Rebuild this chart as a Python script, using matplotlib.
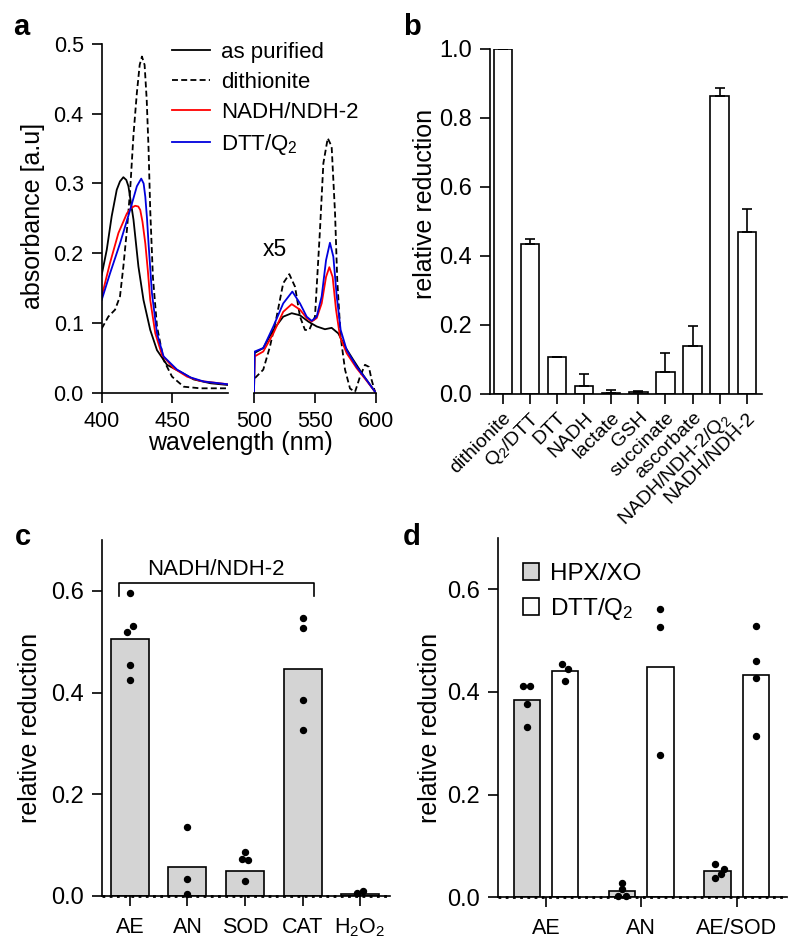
import matplotlib
matplotlib.use('Agg')
import matplotlib.pyplot as plt
from matplotlib.patches import Patch
from matplotlib.lines import Line2D
import numpy as np

plt.rcParams['font.family'] = ['Liberation Sans', 'DejaVu Sans']
plt.rcParams['mathtext.fontset'] = 'custom'
plt.rcParams['mathtext.rm'] = 'Liberation Sans'
plt.rcParams['mathtext.it'] = 'Liberation Sans:italic'
plt.rcParams['mathtext.bf'] = 'Liberation Sans:bold'
plt.rcParams['mathtext.default'] = 'regular'
plt.rcParams['axes.linewidth'] = 1.2

# ---------------- Panel a data (spectra) ----------------
purified_wl_L = [400, 403.6, 407.1, 410.7, 413, 415.4, 417.5, 419, 422.6, 426.1, 429.7, 434.5, 439.3, 446.4, 455.9, 465.4, 477.4, 490]
purified_ab_L = [0.169, 0.205, 0.253, 0.291, 0.303, 0.309, 0.305, 0.296, 0.248, 0.181, 0.133, 0.090, 0.061, 0.040, 0.030, 0.019, 0.0135, 0.011]
dithionite_wl_L = [400, 404.7, 409.5, 413, 415.4, 418, 420.2, 422.6, 425, 427, 428.6, 430.5, 432, 433.3, 434.5, 436.4, 439.3, 444, 450, 458.3, 470, 490]
dithionite_ab_L = [0.092, 0.109, 0.119, 0.138, 0.181, 0.235, 0.290, 0.370, 0.430, 0.470, 0.482, 0.470, 0.420, 0.350, 0.262, 0.166, 0.095, 0.047, 0.023, 0.0086, 0.0063, 0.0063]
nadh_wl_L = [400, 405.9, 411.9, 417.9, 421, 423.8, 426, 427.4, 429, 431, 432.8, 434.5, 438.1, 442.9, 451.2, 460.7, 470.2, 490]
nadh_ab_L = [0.138, 0.186, 0.229, 0.257, 0.265, 0.268, 0.267, 0.262, 0.245, 0.214, 0.175, 0.133, 0.085, 0.054, 0.035, 0.023, 0.0168, 0.012]
dtt_wl_L = [400, 405.9, 413, 420.2, 425, 428.1, 429.8, 431, 432.2, 433.3, 435.7, 439.3, 444, 453.6, 463, 472.6, 490]
dtt_ab_L = [0.133, 0.171, 0.214, 0.262, 0.296, 0.307, 0.300, 0.281, 0.250, 0.214, 0.143, 0.085, 0.052, 0.033, 0.022, 0.016, 0.012]

purified_wl_R = [500, 500.5, 507.6, 515.9, 524, 531, 537.8, 544.6, 551.5, 558.3, 563.8, 569.3, 574.8, 581.6, 589.8, 599.4]
purified_ab_R = [0.0, 0.057, 0.064, 0.090, 0.109, 0.114, 0.111, 0.102, 0.095, 0.091, 0.093, 0.085, 0.066, 0.047, 0.025, 0.0015]
dithionite_wl_R = [500.8, 507.6, 513.1, 518.6, 524, 529, 533.7, 537.8, 541.9, 545.4, 550.1, 554.2, 557, 560.6, 563.8, 566.6, 568.4, 571.2, 574.8, 578.9, 583, 587.1, 591.2, 594.4, 596.7, 599.4]
dithionite_ab_R = [0.021, 0.033, 0.066, 0.109, 0.157, 0.170, 0.152, 0.109, 0.090, 0.090, 0.109, 0.233, 0.329, 0.365, 0.353, 0.257, 0.162, 0.080, 0.033, 0.006, 0.001, 0.023, 0.040, 0.037, 0.018, 0.0015]
nadh_wl_R = [500, 500.5, 507.6, 515.9, 524, 531, 537.8, 543.3, 547.4, 551.5, 555.6, 559.2, 561.9, 564.6, 567.4, 570.7, 576.2, 584.4, 592.6, 599.4]
nadh_ab_R = [0.0, 0.052, 0.059, 0.085, 0.116, 0.127, 0.119, 0.107, 0.102, 0.107, 0.128, 0.166, 0.180, 0.166, 0.119, 0.080, 0.0565, 0.035, 0.017, 0.0015]
dtt_wl_R = [500, 500.5, 507.6, 515.9, 524, 531.5, 537.8, 543.3, 547.4, 551.5, 555.6, 559.2, 562.4, 565.2, 568, 571.2, 576.2, 584.4, 592.6, 599.4]
dtt_ab_R = [0.0, 0.059, 0.064, 0.095, 0.128, 0.145, 0.128, 0.109, 0.103, 0.109, 0.138, 0.190, 0.215, 0.195, 0.138, 0.090, 0.061, 0.037, 0.018, 0.0015]

legend_labels_a = ['as purified', 'dithionite', 'NADH/NDH-2', 'DTT/Q$_2$']

# ---------------- Panel b data ----------------
b_categories = ['dithionite', 'Q$_2$/DTT', 'DTT', 'NADH', 'lactate', 'GSH', 'succinate', 'ascorbate', 'NADH/NDH-2/Q$_2$', 'NADH/NDH-2']
b_values = [1.0, 0.433, 0.106, 0.024, 0.003, 0.007, 0.064, 0.140, 0.863, 0.469]
b_errors = [0.0, 0.016, 0.0, 0.034, 0.010, 0.003, 0.054, 0.058, 0.022, 0.066]

# ---------------- Panel c data ----------------
c_categories = ['AE', 'AN', 'SOD', 'CAT', 'H$_2$O$_2$']
c_values = [0.505, 0.058, 0.049, 0.446, 0.004]
c_points = [[0.596, 0.531, 0.520, 0.454, 0.425],
            [0.136, 0.033, 0.003],
            [0.0865, 0.073, 0.070, 0.0295],
            [0.546, 0.526, 0.385, 0.326],
            [0.0065, 0.0098]]

# ---------------- Panel d data ----------------
d_categories = ['AE', 'AN', 'AE/SOD']
d_series = ['HPX/XO', 'DTT/Q$_2$']
d_hpx_values = [0.384, 0.012, 0.051]
d_dtt_values = [0.440, 0.4485, 0.433]
d_hpx_points = [[0.412, 0.412, 0.377, 0.332],
                [0.0285, 0.0156, 0.0025, 0.0025],
                [0.065, 0.037, 0.045, 0.0545]]
d_dtt_points = [[0.454, 0.444, 0.422],
                [0.562, 0.526, 0.278],
                [0.529, 0.461, 0.427, 0.315]]

# jitter offsets of the dots (layout only)
c_jitter = [[0, 0.05, -0.05, 0, 0], [0, 0, 0], [0, -0.05, 0.05, 0], [0, 0, 0, 0], [-0.05, 0.05]]
d_hpx_jitter = [[-0.04, 0.037, 0, 0], [0, 0, -0.04, 0.04], [-0.03, -0.03, 0.035, 0.065]]
d_dtt_jitter = [[-0.037, 0.026, 0], [0, 0, 0], [0, 0, 0, 0]]

W, H = 800, 949
fig = plt.figure(figsize=(W / 100, H / 100), dpi=100)


def px_axes(x0, y0, x1, y1):
    return fig.add_axes([x0 / W, 1 - y1 / H, (x1 - x0) / W, (y1 - y0) / H])


def style(ax, fs):
    ax.spines['top'].set_visible(False)
    ax.spines['right'].set_visible(False)
    ax.tick_params(direction='out', length=7, width=1.2, labelsize=fs, pad=6)


BLUE = '#0000dd'
RED = '#ff0000'
DASH = (0, (3.3, 1.8))
LW = 1.3
LABEL_FS = 18

# ---------------- Panel a ----------------
axL = px_axes(101.7, 44, 228.3, 392.7)
axR = px_axes(254, 44, 375.7, 392.7)
for ax in (axL, axR):
    style(ax, 15.5)
    ax.set_ylim(0, 0.5)
axL.plot(purified_wl_L, purified_ab_L, color='black', lw=LW)
axL.plot(dithionite_wl_L, dithionite_ab_L, color='black', lw=LW, ls=DASH)
axL.plot(nadh_wl_L, nadh_ab_L, color=RED, lw=LW)
axL.plot(dtt_wl_L, dtt_ab_L, color=BLUE, lw=LW)
axL.set_xlim(400, 490)
axL.set_xticks([400, 450])
axL.set_yticks(np.arange(0, 0.51, 0.1))
axL.yaxis.set_major_formatter(matplotlib.ticker.FormatStrFormatter('%.1f'))

axR.plot(purified_wl_R, purified_ab_R, color='black', lw=LW)
axR.plot(dithionite_wl_R, dithionite_ab_R, color='black', lw=LW, ls=DASH)
axR.plot(nadh_wl_R, nadh_ab_R, color=RED, lw=LW)
axR.plot(dtt_wl_R, dtt_ab_R, color=BLUE, lw=LW)
axR.set_xlim(500, 600)
axR.set_xticks([500, 550, 600])
axR.spines['left'].set_visible(False)
axR.tick_params(left=False, labelleft=False)
axR.text(517.3, 0.205, 'x5', fontsize=16.5, ha='center', va='center')

handles = [Line2D([], [], color='black', lw=LW),
           Line2D([], [], color='black', lw=LW, ls=DASH),
           Line2D([], [], color=RED, lw=LW),
           Line2D([], [], color=BLUE, lw=LW)]
fig.legend(handles, legend_labels_a, loc='upper left', bbox_to_anchor=(172 / W, 1 - 42 / H),
           frameon=False, fontsize=16, handlelength=1.7, handletextpad=0.5,
           labelspacing=0.4, borderpad=0, borderaxespad=0)
fig.text(240 / W, 1 - 431 / H, 'wavelength (nm)', fontsize=LABEL_FS, ha='center', va='top')
fig.text(33 / W, 1 - 216 / H, 'absorbance [a.u]', fontsize=LABEL_FS, ha='center', va='center', rotation=90)

# ---------------- Panel b ----------------
axb = px_axes(490, 48.7, 761.7, 394)
style(axb, 17)
xb = np.arange(len(b_categories))
axb.bar(xb, b_values, width=0.68, color='white', edgecolor='black', lw=1.2, zorder=2)
axb.errorbar(xb, b_values, yerr=[np.zeros(len(b_errors)), b_errors], fmt='none',
             ecolor='black', elinewidth=1.2, capsize=3.5, capthick=1.2, zorder=3)
axb.set_xlim(-0.47, 9.55)
axb.set_ylim(0, 1.0)
axb.set_yticks(np.arange(0, 1.01, 0.2))
axb.yaxis.set_major_formatter(matplotlib.ticker.FormatStrFormatter('%.1f'))
axb.set_xticks(xb)
axb.set_xticklabels(b_categories, rotation=45, ha='right', rotation_mode='anchor', fontsize=14)
axb.tick_params(axis='x', pad=4)
fig.text(425 / W, 1 - 204 / H, 'relative reduction', fontsize=LABEL_FS, ha='center', va='center', rotation=90)

# ---------------- Panel c ----------------
GRAY = '#d4d4d4'
axc = px_axes(101.7, 540, 390, 896)
style(axc, 17)
xc = np.arange(len(c_categories))
axc.bar(xc, c_values, width=0.66, color=GRAY, edgecolor='black', lw=1.2, zorder=2)
for i, pts in enumerate(c_points):
    axc.plot(xc[i] + np.array(c_jitter[i]), pts, 'o', color='black', ms=4.3, zorder=4, clip_on=False)
axc.set_xlim(-0.49, 4.52)
axc.set_ylim(0, 0.7)
axc.set_yticks([0, 0.2, 0.4, 0.6])
axc.yaxis.set_major_formatter(matplotlib.ticker.FormatStrFormatter('%.1f'))
axc.set_xticks(xc)
axc.set_xticklabels(c_categories, fontsize=15.5)
axc.tick_params(axis='x', pad=8)
axc.axhline(0, color='black', lw=2, ls=(0, (1, 1.6)), zorder=5, clip_on=False)
axc.plot([-0.19, -0.19, 3.2, 3.2], [0.59, 0.615, 0.615, 0.59], color='black', lw=1.2)
axc.text(1.5, 0.622, 'NADH/NDH-2', fontsize=16, ha='center', va='bottom')
fig.text(30 / W, 1 - 728 / H, 'relative reduction', fontsize=LABEL_FS, ha='center', va='center', rotation=90)

# ---------------- Panel d ----------------
axd = px_axes(498.3, 537.8, 786.7, 897.3)
style(axd, 17)
xd = np.arange(len(d_categories))
off, bw = 0.2, 0.276
axd.bar(xd - off, d_hpx_values, width=bw, color=GRAY, edgecolor='black', lw=1.2, zorder=2)
axd.bar(xd + off, d_dtt_values, width=bw, color='white', edgecolor='black', lw=1.2, zorder=2)
for i in range(len(d_categories)):
    axd.plot(xd[i] - off + np.array(d_hpx_jitter[i]), d_hpx_points[i], 'o', color='black', ms=4.3, zorder=4, clip_on=False)
    axd.plot(xd[i] + off + np.array(d_dtt_jitter[i]), d_dtt_points[i], 'o', color='black', ms=4.3, zorder=4, clip_on=False)
axd.set_xlim(-0.5, 2.525)
axd.set_ylim(0, 0.7)
axd.set_yticks([0, 0.2, 0.4, 0.6])
axd.yaxis.set_major_formatter(matplotlib.ticker.FormatStrFormatter('%.1f'))
axd.set_xticks(xd)
axd.set_xticklabels(d_categories, fontsize=15.5)
axd.tick_params(axis='x', pad=8)
axd.axhline(0, color='black', lw=2, ls=(0, (1, 1.6)), zorder=5, clip_on=False)
leg_handles = [Patch(facecolor=GRAY, edgecolor='black', lw=1.2),
               Patch(facecolor='white', edgecolor='black', lw=1.2)]
fig.legend(leg_handles, d_series, loc='upper left', bbox_to_anchor=(523 / W, 1 - 563 / H),
           frameon=False, fontsize=17.5, handlelength=0.66, handleheight=0.66,
           handletextpad=0.45, labelspacing=0.45, borderpad=0, borderaxespad=0)
fig.text(430 / W, 1 - 728 / H, 'relative reduction', fontsize=LABEL_FS, ha='center', va='center', rotation=90)

# ---------------- Panel letters ----------------
for lbl, x, y in [('a', 13, 35), ('b', 403, 35), ('c', 15, 545), ('d', 403, 545)]:
    fig.text(x / W, 1 - y / H, lbl, fontsize=21, fontweight='bold', ha='left', va='baseline')

fig.savefig('out.png', dpi=100)
